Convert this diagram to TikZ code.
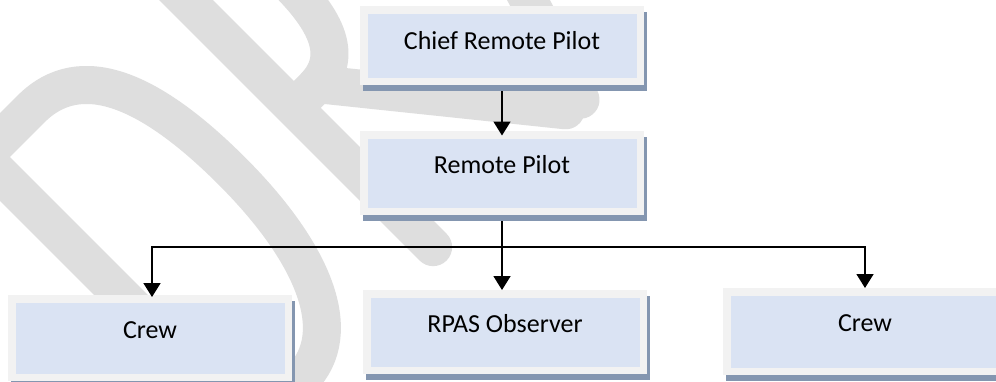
\documentclass[tikz,border=0pt]{standalone}
\usepackage{fontspec}
\setmainfont{Carlito}
\usetikzlibrary{arrows.meta,shadows}
\definecolor{wm}{RGB}{222,222,222}
\definecolor{frm}{RGB}{242,242,242}
\definecolor{inn}{RGB}{218,227,243}
\definecolor{shd}{RGB}{132,150,176}
\begin{document}
\begin{tikzpicture}[x=1pt,y=-1pt,
  box/.style={rectangle, draw=frm, line width=7.5pt, fill=inn,
    minimum width=276.5pt, inner sep=0pt,
    font=\fontsize{26pt}{30pt}\selectfont, text height=18pt,
    drop shadow={shadow xshift=3pt, shadow yshift=-6pt, fill=shd, draw=shd,
      line width=7.5pt, opacity=1}},
  arr/.style={line width=1.7pt, -{Triangle[width=17pt,length=14pt]}},
  wmline/.style={draw=wm, line width=38pt, line cap=round, line join=round}]
\useasboundingbox (0,0) rectangle (996,381);
\fill[white] (0,0) rectangle (996,381);
% watermark
\begin{scope}
\clip (0,0) rectangle (996,381);
\begin{scope}[x=1pt,y=1pt,rotate=45]
  \draw[wmline] (-123,-481) -- (-123,-99) -- (-55,-99)
     .. controls (15,-99) and (43,-170) .. (43,-285)
     .. controls (43,-400) and (10,-481) .. (-55,-481) -- cycle;
  \draw[wmline] (131.5,-481) -- (131.5,-99) -- (160,-99)
     .. controls (200,-99) and (216,-130) .. (216,-191)
     .. controls (216,-252) and (200,-284) .. (160,-284) -- (131.5,-284);
  \draw[wmline] (165,-284) -- (322,-478);
  \draw[wmline] (340,-481) -- (460,-99);
\end{scope}
\end{scope}
% boxes
\node[box, minimum height=71.5pt, text depth=11pt] (chief) at (502,45.5) {Chief Remote Pilot};
\node[box, minimum height=76.5pt, text depth=18pt] (remote) at (502,173) {Remote Pilot};
\node[box, minimum height=78.5pt, text depth=18pt] (crewL) at (150,338) {Crew};
\node[box, minimum height=76.5pt, text depth=18pt] (rpas) at (505,332) {RPAS Observer};
\node[box, minimum height=79.5pt, text depth=19pt] (crewR) at (865,331.5) {Crew};
% connectors
\coordinate (bus) at (502,247);
\draw[arr, shorten <=6pt, shorten >=-4.5pt] (chief.south) -- (remote.north);
\draw[arr, shorten <=6pt] (remote.south) -- (rpas.north -| remote.south);
\draw[arr, shorten >=-2pt] (bus) -| ([xshift=2pt]crewL.north);
\draw[arr] (bus) -| (crewR.north);
\end{tikzpicture}
\end{document}
